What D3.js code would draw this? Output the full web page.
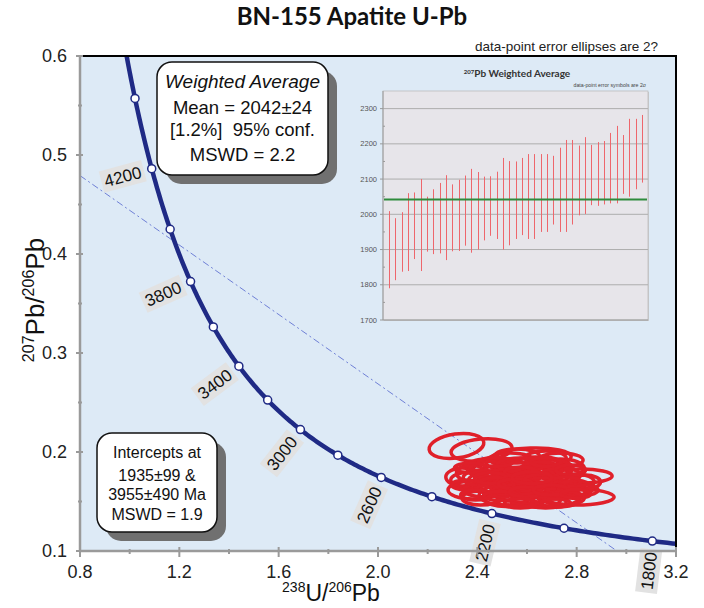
<!DOCTYPE html>
<html><head><meta charset="utf-8">
<script src="https://cdn.jsdelivr.net/npm/d3@7"></script>
<style>body{margin:0;background:#fff}svg{display:block}text{font-family:"Liberation Sans",Arial,sans-serif}</style>
</head><body><svg id="c" width="704" height="608"></svg>
<script>
// ---------- data ----------
const xTicks = [0.8, 1.2, 1.6, 2.0, 2.4, 2.8, 3.2];
const xMinor = [1.0, 1.4, 1.8, 2.2, 2.6, 3.0];
const yTicks = [0.1, 0.2, 0.3, 0.4, 0.5, 0.6];
const yMinor = [0.15, 0.25, 0.35, 0.45, 0.55];
const markerAges = [1800, 2000, 2200, 2400, 2600, 2800, 3000, 3200, 3400, 3600, 3800, 4000, 4200, 4400, 4600];
const labelAges = [1800, 2200, 2600, 3000, 3400, 3800, 4200];
const interceptAges = [1935, 3955];
// error ellipses: centre (238U/206Pb, 207Pb/206Pb), half-widths, tilt (deg)
const ellX  = [2.316,2.417,2.615,2.816,2.796,2.340,2.381,2.494,2.554,2.655,2.715,2.594,2.675,2.514,2.453,2.735,2.635,2.534,2.756,2.574,2.433,2.695,2.615,2.494,2.796,2.675,2.413,2.715,2.473,2.655,2.554,2.735,2.560,2.675,2.373,2.534,2.595,2.640,2.500,2.700,2.560,
               2.373,2.433,2.494,2.554,2.615,2.675,2.735,2.796,2.453,2.574,2.695,2.514,2.635,2.756,2.413,2.715,2.594,2.473,2.655,2.836,
               2.373,2.473,2.574,2.675,2.776,2.352,2.453,2.554,2.655,2.756,2.836,2.393,2.494,2.594,2.695,2.796,2.574,2.715,2.620];
const ellY  = [0.2061,0.2020,0.1939,0.1758,0.1545,0.1747,0.1616,0.1818,0.1717,0.1768,0.1667,0.1596,0.1535,0.1566,0.1697,0.1838,0.1869,0.1899,0.1616,0.1515,0.1838,0.1738,0.1667,0.1636,0.1697,0.1939,0.1535,0.1515,0.1768,0.1616,0.1818,0.1919,0.1960,0.1495,0.1788,0.1667,0.1760,0.1700,0.1720,0.1600,0.1620,
               0.1717,0.1616,0.1737,0.1636,0.1758,0.1667,0.1768,0.1636,0.1818,0.1869,0.1838,0.1515,0.1515,0.1535,0.1737,0.1596,0.1697,0.1667,0.1818,0.1697,
               0.1838,0.1899,0.1798,0.1899,0.1818,0.1667,0.1737,0.1677,0.1717,0.1697,0.1616,0.1566,0.1556,0.1596,0.1616,0.1576,0.1485,0.1485,0.1740];
const ellSx = [0.111,0.123,0.163,0.127,0.155,0.067,0.099,0.115,0.135,0.115,0.107,0.115,0.135,0.107,0.091,0.095,0.107,0.099,0.083,0.095,0.075,0.091,0.083,0.083,0.075,0.083,0.075,0.099,0.067,0.075,0.083,0.091,0.090,0.083,0.057,0.060,0.060,0.050,0.055,0.055,0.050,
               0.080,0.090,0.085,0.100,0.095,0.085,0.080,0.070,0.085,0.095,0.090,0.080,0.100,0.075,0.070,0.085,0.090,0.075,0.085,0.060,
               0.065,0.070,0.065,0.060,0.060,0.055,0.065,0.070,0.065,0.060,0.050,0.060,0.070,0.065,0.070,0.060,0.065,0.060,0.080];
const ellSy = [0.0121,0.0111,0.0101,0.0071,0.0081,0.0091,0.0091,0.0111,0.0121,0.0101,0.0111,0.0111,0.0091,0.0101,0.0111,0.0091,0.0081,0.0091,0.0081,0.0081,0.0091,0.0111,0.0101,0.0091,0.0081,0.0071,0.0071,0.0071,0.0091,0.0081,0.0081,0.0071,0.0071,0.0061,0.0081,0.0061,0.0071,0.0061,0.0065,0.0060,0.0060,
               0.0080,0.0070,0.0085,0.0075,0.0090,0.0080,0.0070,0.0075,0.0085,0.0070,0.0080,0.0065,0.0070,0.0065,0.0080,0.0070,0.0085,0.0075,0.0080,0.0070,
               0.0050,0.0045,0.0050,0.0045,0.0050,0.0050,0.0055,0.0050,0.0055,0.0050,0.0050,0.0050,0.0045,0.0050,0.0050,0.0045,0.0040,0.0040,0.0060];
const ellTilt = [-8,-5,-2,0,0,0,0,-3,0,0,0,0,0,0,0,0,0,0,0,0,0,0,0,0,0,0,0,0,0,0,0,0,0,0,0,0,0,0,0,0,0,
                 0,0,-2,0,0,0,0,0,0,0,0,0,0,0,0,0,0,0,0,0,
                 0,0,0,0,0,0,0,0,0,0,0,0,0,0,0,0,0,0,0];
// inset: 207Pb ages (Ma), 2-sigma upper and lower bounds
const insetHi = [2009,1989,2006,2060,2062,2100,2050,2071,2089,2111,2085,2098,2110,2129,2120,2107,2108,2121,2160,2151,2150,2160,2171,2171,2171,2171,2166,2189,2211,2211,2195,2219,2197,2205,2208,2231,2251,2225,2271,2271,2282];
const insetLo = [1790,1813,1837,1839,1873,1839,1894,1887,1889,1870,1895,1896,1911,1891,1900,1926,1939,1930,1900,1912,1930,1941,1930,1930,1950,1950,1971,1950,1950,1971,1997,2001,2026,2024,2028,2031,2031,2058,2050,2071,2090];
const insetTicks = [1700, 1800, 1900, 2000, 2100, 2200, 2300];
const insetMinor = [1750, 1850, 1950, 2050, 2150, 2250];
const weightedMean = 2042;

// ---------- chart ----------
const svg = d3.select('#c');
const x = d3.scaleLinear().domain([0.8, 3.2]).range([80, 676]);
const y = d3.scaleLinear().domain([0.1, 0.6]).range([551, 56]);
const [X0, X1] = x.range(), [Y1, Y0] = y.range();

const L238 = 1.55125e-4, L235 = 9.8485e-4, R85 = 137.88;
function conc(t) { const e8 = Math.exp(L238 * t) - 1, e5 = Math.exp(L235 * t) - 1; return [1 / e8, e5 / e8 / R85]; }

svg.append('rect').attr('x', X0).attr('y', Y0).attr('width', X1 - X0).attr('height', Y1 - Y0).attr('fill', '#ddeaf6');
svg.append('clipPath').attr('id', 'clip').append('rect').attr('x', X0).attr('y', Y0).attr('width', X1 - X0).attr('height', Y1 - Y0);

// title
svg.append('text').attr('x', 352).attr('y', 25).attr('text-anchor', 'middle')
  .style('font-family', 'Lato, "Open Sans", sans-serif').style('font-weight', 'bold').style('font-size', '24px').attr('fill', '#111')
  .text('BN-155 Apatite U-Pb');
svg.append('text').attr('x', 658).attr('y', 51).attr('text-anchor', 'end').style('font-size', '13.5px').attr('fill', '#222')
  .text('data-point error ellipses are 2?');

// ---------- inset ----------
const ix = d3.scalePoint().domain(d3.range(insetHi.length)).range([383, 648]).padding(0.95);
const iy = d3.scaleLinear().domain([1700, 2350]).range([320, 91]);
const ins = svg.append('g');
ins.append('rect').attr('x', 384).attr('y', 92).attr('width', 265).attr('height', 229).attr('fill', '#c9c9cc');
ins.append('rect').attr('x', 383).attr('y', 91).attr('width', 265).attr('height', 229).attr('fill', '#e7e5ea').attr('stroke', '#bdbdbd').attr('stroke-width', 0.8);
ins.selectAll('line.grid').data(insetTicks.slice(1)).join('line')
  .attr('x1', 383).attr('x2', 648).attr('y1', d => iy(d)).attr('y2', d => iy(d)).attr('stroke', '#adadad').attr('stroke-width', 1);
ins.selectAll('line.bar').data(insetHi).join('line')
  .attr('x1', (d, i) => Math.round(ix(i)) + 0.5).attr('x2', (d, i) => Math.round(ix(i)) + 0.5)
  .attr('y1', d => iy(d)).attr('y2', (d, i) => iy(insetLo[i]))
  .attr('stroke', '#ee666c').attr('stroke-width', 1);
ins.append('line').attr('x1', 384).attr('x2', 647).attr('y1', iy(weightedMean)).attr('y2', iy(weightedMean))
  .attr('stroke', '#2e8b3c').attr('stroke-width', 1.8);
ins.append('line').attr('x1', 383).attr('x2', 383).attr('y1', 91).attr('y2', 320).attr('stroke', '#999').attr('stroke-width', 1);
ins.append('line').attr('x1', 383).attr('x2', 648).attr('y1', 320).attr('y2', 320).attr('stroke', '#999').attr('stroke-width', 1);
ins.selectAll('line.tk').data(insetTicks).join('line').attr('x1', 380).attr('x2', 383).attr('y1', d => iy(d)).attr('y2', d => iy(d)).attr('stroke', '#999');
ins.selectAll('line.mtk').data(insetMinor).join('line').attr('x1', 383).attr('x2', 385).attr('y1', d => iy(d)).attr('y2', d => iy(d)).attr('stroke', '#999');
ins.selectAll('text.tl').data(insetTicks).join('text').attr('x', 377).attr('y', d => iy(d) + 2.5).attr('text-anchor', 'end')
  .style('font-size', '7.5px').attr('fill', '#555').text(d => d);
const it = ins.append('text').attr('x', 517).attr('y', 77).attr('text-anchor', 'middle')
  .style('font-family', 'Lato, "Open Sans", sans-serif').style('font-weight', 'bold').style('font-size', '10px').attr('fill', '#333');
it.append('tspan').style('font-size', '6px').attr('dy', -3).text('207');
it.append('tspan').attr('dy', 3).text('Pb Weighted Average');
ins.append('text').attr('x', 646).attr('y', 87).attr('text-anchor', 'end').style('font-size', '5.2px').attr('fill', '#444')
  .text('data-point error symbols are 2σ');

// ---------- plot content (clipped) ----------
const pg = svg.append('g').attr('clip-path', 'url(#clip)');
// discordia
const [a1, a2] = interceptAges.map(conc);
const slope = (a2[1] - a1[1]) / (a2[0] - a1[0]);
const dx0 = 0.8, dx1 = 3.2;
pg.append('line').attr('x1', x(dx0)).attr('y1', y(a1[1] + slope * (dx0 - a1[0])))
  .attr('x2', x(dx1)).attr('y2', y(a1[1] + slope * (dx1 - a1[0])))
  .attr('stroke', '#6f80d6').attr('stroke-width', 1).attr('stroke-dasharray', '7 3 2 3');
// ellipses
pg.selectAll('ellipse').data(ellX).join('ellipse')
  .attr('cx', d => x(d)).attr('cy', (d, i) => y(ellY[i]))
  .attr('rx', (d, i) => x(d + ellSx[i]) - x(d)).attr('ry', (d, i) => y(ellY[i]) - y(ellY[i] + ellSy[i]))
  .attr('transform', (d, i) => `rotate(${ellTilt[i]},${x(d)},${y(ellY[i])})`)
  .attr('fill', 'none').attr('stroke', '#e0202a').attr('stroke-width', 3.5);
// concordia
const curve = d3.range(1650, 4800, 10).map(conc);
pg.append('path').datum(curve).attr('d', d3.line().x(d => x(d[0])).y(d => y(d[1])))
  .attr('fill', 'none').attr('stroke', '#1f2a85').attr('stroke-width', 4.5);
pg.selectAll('circle').data(markerAges).join('circle')
  .attr('cx', d => x(conc(d)[0])).attr('cy', d => y(conc(d)[1])).attr('r', 4)
  .attr('fill', '#fff').attr('stroke', '#1f2a85').attr('stroke-width', 1.5);

// age labels, perpendicular to the curve
labelAges.forEach(t => {
  const p = conc(t), q = conc(t - 5);
  const px = x(p[0]), py = y(p[1]);
  const ang = Math.atan2(y(q[1]) - py, x(q[0]) - px) * 180 / Math.PI - 90;
  const r = ang * Math.PI / 180, d = 30;
  const cx = px - d * Math.cos(r), cy = py - d * Math.sin(r);
  const g = svg.append('g').attr('transform', `translate(${cx},${cy}) rotate(${ang})`);
  const bg = g.append('rect').attr('fill', '#e2e2e2');
  const tx = g.append('text').attr('text-anchor', 'middle').attr('dy', '0.36em').style('font-size', '17px').attr('fill', '#111').text(t);
  const bb = tx.node().getBBox();
  bg.attr('x', bb.x - 3).attr('y', -11).attr('width', bb.width + 6).attr('height', 22);
});

// ---------- frame & axes ----------
svg.append('line').attr('x1', X0 + 3).attr('x2', X1 + 1).attr('y1', Y0).attr('y2', Y0).attr('stroke', '#000').attr('stroke-width', 2);
svg.append('line').attr('x1', X1).attr('x2', X1).attr('y1', Y0).attr('y2', Y1 - 3).attr('stroke', '#000').attr('stroke-width', 2);
const axc = '#9a9a9a';
svg.append('line').attr('x1', X0).attr('x2', X0).attr('y1', Y0 - 1).attr('y2', Y1 + 1).attr('stroke', axc).attr('stroke-width', 2.5);
svg.append('line').attr('x1', X0 - 1).attr('x2', X1 + 1).attr('y1', Y1).attr('y2', Y1).attr('stroke', axc).attr('stroke-width', 2.5);
svg.selectAll('line.yt').data(yTicks).join('line').attr('x1', X0 - 4).attr('x2', X0 + 3).attr('y1', d => y(d)).attr('y2', d => y(d)).attr('stroke', axc).attr('stroke-width', 2);
svg.selectAll('line.ym').data(yMinor).join('line').attr('x1', X0 - 2).attr('x2', X0 + 2).attr('y1', d => y(d)).attr('y2', d => y(d)).attr('stroke', axc).attr('stroke-width', 2);
svg.selectAll('line.xt').data(xTicks).join('line').attr('y1', Y1 - 4).attr('y2', Y1 + 6).attr('x1', d => x(d)).attr('x2', d => x(d)).attr('stroke', axc).attr('stroke-width', 2);
svg.selectAll('line.xm').data(xMinor).join('line').attr('y1', Y1 - 2).attr('y2', Y1 + 3).attr('x1', d => x(d)).attr('x2', d => x(d)).attr('stroke', axc).attr('stroke-width', 2);
svg.selectAll('text.yl').data(yTicks).join('text').attr('x', X0 - 13).attr('y', d => y(d) + 6).attr('text-anchor', 'end')
  .style('font-size', '18px').attr('fill', '#222').text(d => d3.format('.1f')(d));
svg.selectAll('text.xl').data(xTicks).join('text').attr('x', d => x(d)).attr('y', Y1 + 27).attr('text-anchor', 'middle')
  .style('font-size', '18px').attr('fill', '#222').text(d => d3.format('.1f')(d));

// axis titles
function ratio(sel, a, b, c, d, sup, sh) {
  sel.append('tspan').style('font-size', sup).attr('dy', -sh).text(a);
  sel.append('tspan').attr('dy', sh).text(b + '/');
  sel.append('tspan').style('font-size', sup).attr('dy', -sh).text(c);
  sel.append('tspan').attr('dy', sh).text(d);
}
const xt = svg.append('text').attr('x', 331).attr('y', 601).attr('text-anchor', 'middle').style('font-size', '23px').attr('fill', '#111');
ratio(xt, '238', 'U', '206', 'Pb', '14px', 9);
const yt = svg.append('text').attr('transform', 'translate(44,300) rotate(-90)').attr('text-anchor', 'middle').style('font-size', '26px').attr('fill', '#111');
ratio(yt, '207', 'Pb', '206', 'Pb', '16px', 10);

// ---------- annotation boxes ----------
function box(bx, by, w, h, lines) {
  svg.append('rect').attr('x', bx + 9).attr('y', by + 9).attr('width', w).attr('height', h).attr('rx', 15).attr('fill', '#707070');
  svg.append('rect').attr('x', bx).attr('y', by).attr('width', w).attr('height', h).attr('rx', 15).attr('fill', '#fff').attr('stroke', '#111').attr('stroke-width', 1.5);
  lines.forEach(l => svg.append('text').attr('x', bx + w / 2).attr('y', l.y).attr('text-anchor', 'middle')
    .style('font-size', l.size).style('font-style', l.italic ? 'italic' : 'normal').style('white-space', 'pre').attr('fill', '#111').text(l.t));
}
box(157, 62, 171, 113, [
  { t: 'Weighted Average', y: 88, size: '19px', italic: true },
  { t: 'Mean = 2042±24', y: 114, size: '18.5px' },
  { t: '[1.2%]  95% conf.', y: 136, size: '18.5px' },
  { t: 'MSWD = 2.2', y: 161, size: '18.5px' }
]);
box(97, 433, 120, 99, [
  { t: 'Intercepts at', y: 458, size: '16px' },
  { t: '1935±99 &', y: 481, size: '16px' },
  { t: '3955±490 Ma', y: 500, size: '16px' },
  { t: 'MSWD = 1.9', y: 520, size: '16px' }
]);
</script></body></html>
